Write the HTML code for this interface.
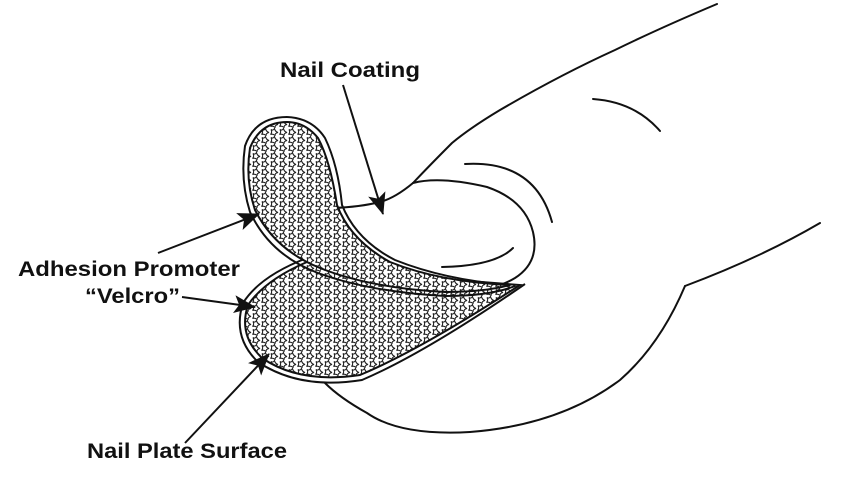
<!DOCTYPE html>
<html><head><style>
html,body{margin:0;padding:0;background:#fff;}
svg{display:block;}
text{font-family:"Liberation Sans",sans-serif;font-weight:bold;fill:#111;}
</style></head><body>
<svg width="855" height="481" viewBox="0 0 855 481" xmlns="http://www.w3.org/2000/svg">
<defs>
<pattern id="v" width="9" height="8" patternUnits="userSpaceOnUse">
<rect width="9" height="8" fill="#fff"/>
<path d="M1 1.5 Q3 3 4.5 0.5 Q5 3.5 8 4.5 Q5 5 5 7.5 Q3 5.5 0.5 6.5 Q2.5 4.5 1 1.5 Z" fill="none" stroke="#222" stroke-width="1.1"/>
</pattern>
<marker id="b" markerWidth="22" markerHeight="18" refX="21" refY="9" orient="auto" markerUnits="userSpaceOnUse" viewBox="0 0 22 18">
<path d="M0 0 L22 9 L0 18 L5 9 Z" fill="#111"/>
</marker>
</defs>
<g fill="none" stroke="#111" stroke-width="2" stroke-linecap="round" stroke-linejoin="round">
<path d="M717 4 Q660 28 615 50 Q560 75 500 110 Q470 128 452 143 Q430 165 413 183 Q395 198 380 202 Q360 207 333 208"/>
<path d="M413 183 Q440 176 487 187 Q525 200 533 232 Q540 262 515 278 Q495 290 470 290"/>
<path d="M442 267 Q495 266 513 248"/>
<path d="M465 164 Q535 160 552 222"/>
<path d="M593 99 Q635 102 660 131"/>
<path d="M820 223 Q760 258 685 286"/>
<path d="M685 286 Q660 345 620 380 Q560 425 470 432 Q400 436 367 413 Q340 398 325 383"/>
</g>
<path d="M307 262 Q265 280 248 305 Q238 335 262 358 Q300 384 360 375 Q420 350 520 285 L430 278 Z" fill="url(#v)" stroke="#111" stroke-width="2"/>
<path d="M307 258 Q260 276 243 303 Q232 337 258 362 Q300 390 362 380 Q425 353 525 284" fill="none" stroke="#111" stroke-width="2"/>
<path d="M287 122 Q260 122 250 148 Q245 180 255 210 Q275 250 320 268 Q370 288 445 292 Q485 292 510 285 Q440 282 390 262 Q350 240 337 205 Q330 160 318 138 Q305 122 287 122 Z" fill="url(#v)" stroke="#111" stroke-width="2"/>
<path d="M287 117 Q255 117 245 146 Q240 180 250 212 Q270 255 318 273 Q370 292 445 296 Q490 296 515 286" fill="none" stroke="#111" stroke-width="2"/>
<path d="M287 117 Q312 118 325 138 Q338 165 342 205 Q356 240 395 260 Q445 280 510 285" fill="none" stroke="#111" stroke-width="2"/>
<g stroke="#111" stroke-width="2" fill="none">
<line x1="343" y1="85" x2="383" y2="214" marker-end="url(#b)"/>
<line x1="158" y1="253" x2="259" y2="214" marker-end="url(#b)"/>
<line x1="182" y1="297" x2="255" y2="307" marker-end="url(#b)"/>
<line x1="185" y1="443" x2="269" y2="354" marker-end="url(#b)"/>
</g>
<text x="280" y="77" font-size="21" textLength="140" lengthAdjust="spacingAndGlyphs">Nail Coating</text>
<text x="18" y="276" font-size="21" textLength="222" lengthAdjust="spacingAndGlyphs">Adhesion Promoter</text>
<text x="85" y="303" font-size="21" textLength="95" lengthAdjust="spacingAndGlyphs">“Velcro”</text>
<text x="87" y="458" font-size="21" textLength="200" lengthAdjust="spacingAndGlyphs">Nail Plate Surface</text>
</svg>
</body></html>
